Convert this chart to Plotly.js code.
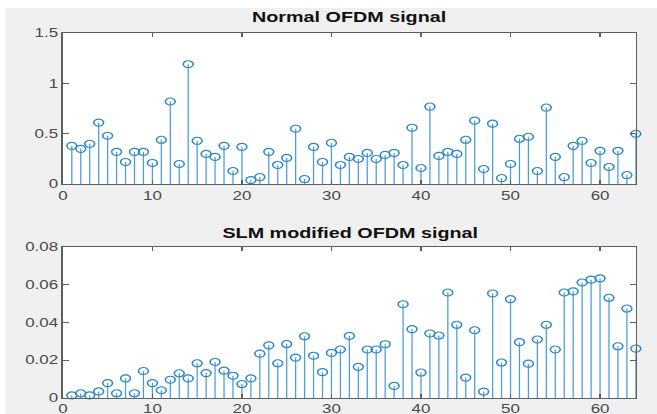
<!DOCTYPE html>
<html>
<head>
<meta charset="utf-8">
<script src="https://cdn.plot.ly/plotly-3.0.1.min.js"></script>
<style>
  html, body { margin: 0; padding: 0; background: #ffffff; overflow: hidden; width: 657px; height: 414px; }
  #wrap { position: absolute; left: 5px; top: 8px; width: 462px; height: 406px; transform: scaleX(1.4113); transform-origin: 0 0; }
  #chart { width: 462px; height: 406px; }
</style>
</head>
<body>
<div id="wrap"><div id="chart"></div></div>
<script>
// Sample index (1..64)
const idx = [1,2,3,4,5,6,7,8,9,10,11,12,13,14,15,16,17,18,19,20,21,22,23,24,25,26,27,28,29,30,31,32,
             33,34,35,36,37,38,39,40,41,42,43,44,45,46,47,48,49,50,51,52,53,54,55,56,57,58,59,60,61,62,63,64];

// Normal OFDM signal magnitudes
const normalOFDM = [0.38,0.35,0.40,0.61,0.48,0.32,0.22,0.32,0.32,0.21,0.44,0.82,0.20,1.19,0.43,0.30,
                    0.27,0.38,0.13,0.37,0.04,0.07,0.32,0.19,0.26,0.55,0.05,0.37,0.22,0.41,0.19,0.27,
                    0.25,0.31,0.25,0.29,0.31,0.19,0.56,0.16,0.77,0.28,0.32,0.30,0.44,0.63,0.15,0.60,
                    0.06,0.20,0.45,0.47,0.13,0.76,0.27,0.07,0.38,0.43,0.21,0.33,0.17,0.33,0.09,0.50];

// SLM modified OFDM signal magnitudes
const slmOFDM = [0.0014,0.0025,0.0014,0.0035,0.0079,0.0025,0.0104,0.0025,0.0143,0.0079,0.0041,0.0097,
                 0.0131,0.0104,0.0184,0.0132,0.0191,0.0145,0.0118,0.0074,0.0104,0.0235,0.0279,0.0184,
                 0.0286,0.0214,0.0327,0.0224,0.0137,0.0239,0.0257,0.0329,0.0165,0.0257,0.0257,0.0285,
                 0.0064,0.0497,0.0365,0.0135,0.0342,0.0331,0.0559,0.0388,0.0108,0.0359,0.0034,0.0554,
                 0.0188,0.0524,0.0296,0.0182,0.0310,0.0388,0.0257,0.0559,0.0565,0.0612,0.0627,0.0634,
                 0.0531,0.0274,0.0474,0.0262];

const titles = ["Normal OFDM signal", "SLM modified OFDM signal"];
const xTicks = [0,10,20,30,40,50,60];
const yTicksTop = [0,0.5,1,1.5];
const yTicksBottom = [0,0.02,0.04,0.06,0.08];

const markerColor = '#2a86c9';
const stemColor = '#4c9ed8';

function stemTrace(x, y, xa, ya) {
  return {
    type: 'scatter', mode: 'markers', x: x, y: y, xaxis: xa, yaxis: ya,
    marker: { symbol: 'circle-open', size: 7, color: markerColor, line: { width: 1.1, color: markerColor } },
    error_y: { type: 'data', symmetric: false, array: y.map(() => 0), arrayminus: y,
               width: 0, thickness: 0.9, color: stemColor },
    hoverinfo: 'x+y', cliponaxis: false, showlegend: false
  };
}

const axisCommon = {
  showline: true, linecolor: '#5e5e5e', linewidth: 1, mirror: 'ticks',
  ticks: 'inside', ticklen: 4, tickwidth: 1, tickcolor: '#5e5e5e',
  showgrid: false, zeroline: false,
  tickfont: { family: 'Liberation Sans, Arial, sans-serif', size: 12, color: '#4a4a4a' }
};

const data = [
  stemTrace(idx, normalOFDM, 'x', 'y'),
  stemTrace(idx, slmOFDM, 'x2', 'y2')
];

const layout = {
  width: 462, height: 406,
  margin: { l: 41, r: 15, t: 25, b: 16 },
  paper_bgcolor: '#f0f0f0', plot_bgcolor: '#ffffff',
  showlegend: false,
  xaxis: Object.assign({}, axisCommon, { domain: [0,1], anchor: 'y', range: [0,64], tickvals: xTicks }),
  yaxis: Object.assign({}, axisCommon, { domain: [0.586,1], anchor: 'x', range: [0,1.5], tickvals: yTicksTop }),
  xaxis2: Object.assign({}, axisCommon, { domain: [0,1], anchor: 'y2', range: [0,64], tickvals: xTicks }),
  yaxis2: Object.assign({}, axisCommon, { domain: [0,0.4137], anchor: 'x2', range: [0,0.08], tickvals: yTicksBottom }),
  annotations: [
    { text: '<b>' + titles[0] + '</b>', xref: 'paper', yref: 'paper', x: 0.5, y: 1.044,
      xanchor: 'center', yanchor: 'middle', showarrow: false,
      font: { family: 'Liberation Sans, Arial, sans-serif', size: 14, color: '#111111' } },
    { text: '<b>' + titles[1] + '</b>', xref: 'paper', yref: 'paper', x: 0.5, y: 0.452,
      xanchor: 'center', yanchor: 'middle', showarrow: false,
      font: { family: 'Liberation Sans, Arial, sans-serif', size: 14, color: '#111111' } }
  ]
};

Plotly.newPlot('chart', data, layout, { displayModeBar: false, responsive: false, staticPlot: true });
</script>
</body>
</html>
